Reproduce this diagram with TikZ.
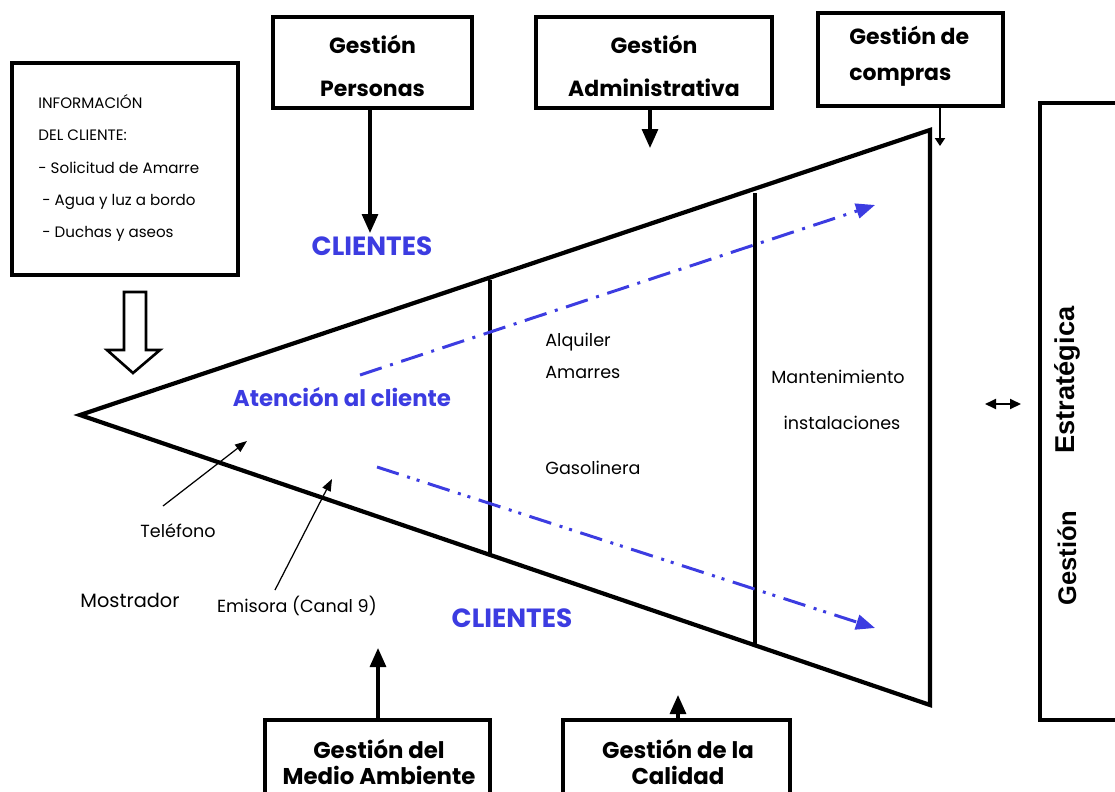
\documentclass[tikz,border=0pt]{standalone}
\usepackage{fontspec}
\setmainfont{Poppins}
\newfontfamily\arialfont{Liberation Sans}
\usetikzlibrary{arrows.meta}
\definecolor{cblue}{RGB}{60,60,225}
\tikzset{
  box/.style={draw, line width=2.2pt, fill=white, inner sep=0pt},
  boxtext/.style={font=\fontsize{12.5}{24}\selectfont\bfseries, align=center, inner sep=0pt},
  bluetext/.style={font=\fontsize{15}{17}\selectfont\bfseries, text=cblue, inner sep=0pt},
  plaintext/.style={font=\fontsize{10}{18}\selectfont, inner sep=0pt},
  feed/.style={line width=1.8pt, -{Triangle[length=0.38cm,width=0.32cm]}},
  thinarrow/.style={line width=0.7pt, -{Triangle[length=0.24cm,width=0.18cm]}},
  flow/.style={cblue, line width=1.7pt, -{Triangle[length=0.38cm,width=0.3cm]}},
  funnel/.style={line width=2.4pt, line join=miter},
  divider/.style={line width=1.9pt}
}
\begin{document}
\begin{tikzpicture}[x=0.02cm,y=-0.02cm]
\useasboundingbox (0,0) rectangle (1115,791);
\clip (0,0) rectangle (1115,791);

% funnel
\coordinate (apex) at (80,415);
\coordinate (tr) at (930,130);
\coordinate (br) at (930,705);
\draw[funnel] (apex) -- (tr) -- (br) -- cycle;
\coordinate (d1t) at (490,280);
\coordinate (d1b) at (490,555);
\coordinate (d2t) at (755,193);
\coordinate (d2b) at (755,645);
\draw[divider] (d1t) -- (d1b);
\draw[divider] (d2t) -- (d2b);

% info box
\node[box, minimum width=4.52cm, minimum height=4.24cm, line width=2.6pt] (info) at (125,169) {};
\node[anchor=west, align=left, inner sep=0pt, font=\fontsize{8.6}{18.4}\selectfont] (infotext) at (38,168)
  {INFORMACIÓN\\DEL CLIENTE:\\- Solicitud de Amarre\\\ - Agua y luz a bordo\\\ - Duchas y aseos};

% hollow arrow
\draw[line width=1.5pt, fill=white] (124,292) -- (146,292) -- (146,350) -- (160,350) -- (133,373) -- (107,350) -- (124,350) -- cycle;

% top boxes
\node[box, minimum width=3.98cm, minimum height=1.82cm] (pers) at (372.5,62.5) {};
\node[boxtext] (perst) at (372.5,66) {Gestión\\Personas};
\node[box, minimum width=4.72cm, minimum height=1.82cm] (admin) at (654,62.5) {};
\node[boxtext] (admint) at (654,66) {Gestión\\Administrativa};
\node[box, minimum width=3.7cm, minimum height=1.86cm] (comp) at (910.5,59.5) {};
\node[boxtext, align=left, anchor=west, font=\fontsize{12.5}{20.4}\selectfont\bfseries] (compt) at (849,56) {Gestión de\\compras};

% right box
\node[box, minimum width=2cm, minimum height=12.34cm] (estr) at (1090,411.5) {};
\node[rotate=90, inner sep=0pt, font=\arialfont\fontsize{15.5}{17}\selectfont\bfseries] (estrt1) at (1067,380) {Estratégica};
\node[rotate=90, inner sep=0pt, font=\arialfont\fontsize{14.5}{16}\selectfont\bfseries] (estrt2) at (1067,558) {Gestión};

% bottom boxes
\node[box, minimum width=4.5cm, minimum height=2.2cm] (medio) at (377.5,775) {};
\node[boxtext, font=\fontsize{13}{15.3}\selectfont\bfseries] (mediot) at (379,762) {Gestión del\\Medio Ambiente};
\node[box, minimum width=4.54cm, minimum height=2.2cm] (cal) at (676.5,775) {};
\node[boxtext, font=\fontsize{13}{15.3}\selectfont\bfseries] (calt) at (678,762) {Gestión de la\\Calidad};

% box arrows
\coordinate (persend) at (370,233);
\coordinate (adminend) at (650,148);
\coordinate (compstart) at (940,106);
\coordinate (compend) at (940,146);
\coordinate (medioend) at (378,648);
\coordinate (calend) at (678,695);
\draw[feed] (pers.south -| persend) -- (persend);
\draw[feed] (admin.south -| adminend) -- (adminend);
\draw[line width=1.1pt, -{Triangle[length=0.16cm,width=0.2cm]}] (compstart) -- (compend);
\draw[feed] (medio.north -| medioend) -- (medioend);
\draw[feed] (cal.north -| calend) -- (calend);

% double arrow
\coordinate (dl) at (985,404);
\coordinate (dr) at (1021,404);
\draw[line width=1.1pt, {Triangle[length=0.22cm,width=0.2cm]}-{Triangle[length=0.22cm,width=0.2cm]}] (dl) -- (dr);

% blue flow arrows
\coordinate (f1s) at (360,375);
\coordinate (f1e) at (875,205);
\coordinate (f2s) at (377,467);
\coordinate (f2e) at (875,628);
\draw[flow, dash pattern=on 13pt off 5pt on 1.7pt off 5pt] (f1s) -- (f1e);
\draw[flow, dash pattern=on 13pt off 5pt on 1.7pt off 4pt on 1.7pt off 5pt] (f2s) -- (f2e);

% labels
\node[bluetext] (cli1) at (372,246) {CLIENTES};
\node[bluetext] (cli2) at (512,618) {CLIENTES};
\node[bluetext, font=\fontsize{13}{15}\selectfont\bfseries] (aten) at (342,397) {Atención al cliente};
\node[plaintext, anchor=west, align=left] (alq) at (545,356) {Alquiler\\Amarres};
\node[plaintext, anchor=west] (gas) at (545,468) {Gasolinera};
\node[plaintext] (mant) at (838,377) {Mantenimiento};
\node[plaintext] (inst) at (842,423) {instalaciones};
\node[plaintext] (tel) at (178,531) {Teléfono};
\node[plaintext, font=\fontsize{11}{18}\selectfont] (most) at (130,600) {Mostrador};
\node[plaintext] (emis) at (297,606) {Emisora (Canal 9)};

% thin arrows
\coordinate (telstart) at (163,506);
\coordinate (telend) at (247,441);
\coordinate (emisstart) at (275,590);
\coordinate (emisend) at (332,479);
\draw[thinarrow] (telstart) -- (telend);
\draw[thinarrow] (emisstart) -- (emisend);
\end{tikzpicture}
\end{document}
